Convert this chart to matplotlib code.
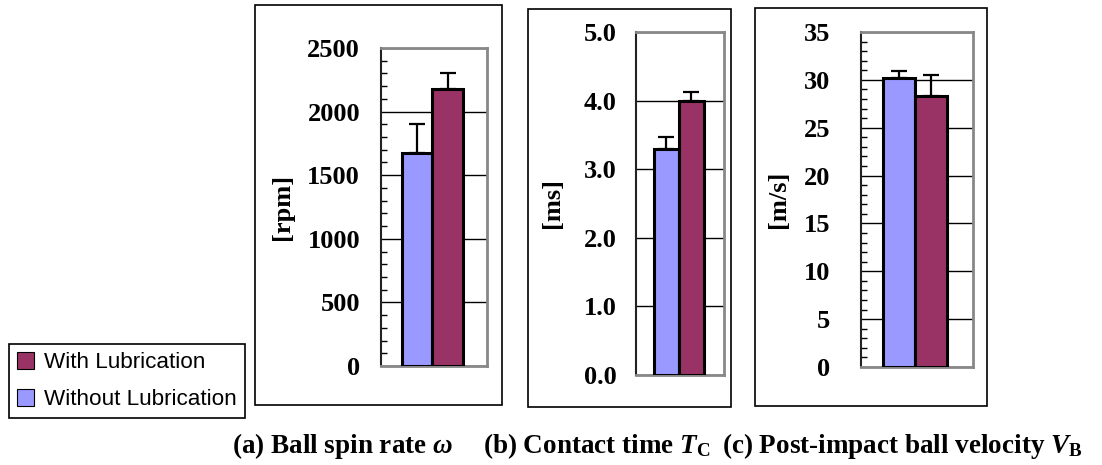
import matplotlib
matplotlib.use("Agg")
import matplotlib.pyplot as plt
from matplotlib.patches import Patch, Rectangle
from matplotlib.ticker import MultipleLocator

plt.rcParams['font.family'] = ['Liberation Serif', 'DejaVu Serif']
plt.rcParams['mathtext.fontset'] = 'custom'
plt.rcParams['mathtext.rm'] = 'Liberation Serif:bold'
plt.rcParams['mathtext.it'] = 'Liberation Serif:bold:italic'
plt.rcParams['mathtext.bf'] = 'Liberation Serif:bold'

# data
series = ['Without Lubrication', 'With Lubrication']
colors = ['#9999FF', '#993366']

spin_mean = [1678, 2175]
spin_err = [221, 131]
contact_mean = [3.29, 3.99]
contact_err = [0.18, 0.13]
velocity_mean = [30.16, 28.28]
velocity_err = [0.80, 2.19]

units = ['[rpm]', '[ms]', '[m/s]']
captions = [r'(a) Ball spin rate $\omega$',
            r'(b) Contact time $T_{\mathrm{C}}$',
            r'(c) Post-impact ball velocity $V_{\mathrm{B}}$']

W, H = 1102, 465
fig = plt.figure(figsize=(W / 100, H / 100), dpi=100)


def fx(px):
    return px / W


def fy(py):
    return 1 - py / H


# (axes box px: left, top, right, bottom), outer frame, ylim, major, minor, fmt, pad px, ylabel x
panels = [
    dict(ax=(381, 48, 487, 366), frame=(255, 5, 502, 405), ylim=2500, major=500,
         minor=100, fmt='{:.0f}', pad=21, lx=282,
         mean=spin_mean, err=spin_err),
    dict(ax=(636, 32, 724, 375), frame=(528, 9, 731, 407), ylim=5.0, major=1.0,
         minor=None, fmt='{:.1f}', pad=19, lx=552,
         mean=contact_mean, err=contact_err),
    dict(ax=(861, 32, 973, 367), frame=(755, 8, 987, 406), ylim=35, major=5,
         minor=1, fmt='{:.0f}', pad=31, lx=778,
         mean=velocity_mean, err=velocity_err),
]

for i, p in enumerate(panels):
    l, t, r, b = p['ax']
    ax = fig.add_axes([fx(l), fy(b), fx(r - l), (b - t) / H])
    x = [0, 1]
    ax.bar(x, p['mean'], width=1.0, color=colors, edgecolor='black',
           linewidth=2.2, zorder=3)
    ax.errorbar(x, p['mean'], yerr=[[0, 0], p['err']], fmt='none',
                ecolor='black', elinewidth=1.6, capsize=6, capthick=1.6,
                zorder=2)
    ax.set_xlim(-1.2, 2.3)
    ax.set_ylim(0, p['ylim'])
    ax.yaxis.set_major_locator(MultipleLocator(p['major']))
    if p['minor']:
        ax.yaxis.set_minor_locator(MultipleLocator(p['minor']))
    ax.set_yticklabels([p['fmt'].format(v) for v in ax.get_yticks()])
    ax.tick_params(axis='y', which='major', direction='in', length=0,
                   pad=p['pad'] * 0.72, labelsize=19)
    ax.tick_params(axis='y', which='minor', direction='in', length=4,
                   width=1, color='black')
    for lab in ax.get_yticklabels():
        lab.set_fontweight('bold')
    ax.set_xticks([])
    ax.grid(axis='y', which='major', color='black', linewidth=1, zorder=1)
    for s in ['top', 'right', 'bottom']:
        ax.spines[s].set_color('#888888')
        ax.spines[s].set_linewidth(2)
    ax.spines['left'].set_color('#222222')
    ax.spines['left'].set_linewidth(1.5)

    fl, ft, fr, fb = p['frame']
    fig.patches.append(Rectangle((fx(fl), fy(fb)), fx(fr - fl), (fb - ft) / H,
                                 transform=fig.transFigure, fill=False,
                                 edgecolor='black', linewidth=1.2))
    fig.text(fx(p['lx']), fy((t + b) / 2), units[i], rotation=90,
             ha='center', va='center', fontsize=19, fontweight='bold')

cap_x = [343, 597, 902]
for cx, cap in zip(cap_x, captions):
    fig.text(fx(cx), fy(446), cap, ha='center', va='center', fontsize=19.5,
             fontweight='bold')

handles = [Patch(facecolor=colors[1], edgecolor='black', linewidth=0.8),
           Patch(facecolor=colors[0], edgecolor='black', linewidth=0.8)]
leg = fig.legend(handles, [series[1], series[0]], loc='upper left',
                 bbox_to_anchor=(fx(9), fy(344)), borderaxespad=0,
                 fancybox=False, edgecolor='black', framealpha=1,
                 prop={'family': 'Liberation Sans', 'size': 16.2},
                 handlelength=0.77, handleheight=0.77, handletextpad=0.45,
                 labelspacing=0.7, borderpad=0.35)
leg.get_frame().set_linewidth(1.2)

fig.savefig('out.png', dpi=100)
